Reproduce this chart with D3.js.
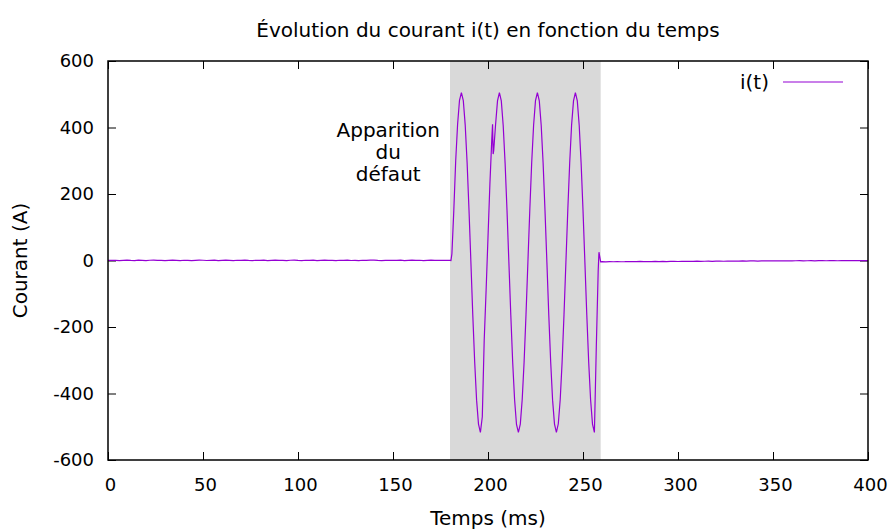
<!DOCTYPE html>
<html>
<head>
<meta charset="utf-8">
<script src="https://cdn.jsdelivr.net/npm/d3@7"></script>
<style>
  body { margin: 0; background: #fff; }
  svg { display: block; }
  text { font-family: "DejaVu Sans", sans-serif; fill: #000; }
</style>
</head>
<body>
<svg id="chart" width="891" height="529"></svg>
<script>
// Current i(t) in amperes, time in milliseconds.
// Before the fault: samples every 2 ms from 0 to 180 ms.
const preFaultStep = 2;
const preFaultCurrent = [
  0.5, 0.8, 0.2, -0.4, 0.6, 1.2, 0.3, -0.2, 0.9, 0.4,
  -0.5, 0.7, 1.1, 0.2, 0.6, -0.3, 0.4, 1.0, 0.5, -0.1,
  0.8, 0.3, -0.6, 0.5, 1.2, 0.7, 0.0, 0.4, 0.9, -0.3,
  0.6, 1.0, 0.2, -0.4, 0.7, 0.5, 1.1, 0.3, -0.2, 0.8,
  0.4, 0.9, -0.5, 0.6, 1.0, 0.1, 0.5, -0.3, 0.8, 1.2,
  0.4, -0.1, 0.7, 0.3, 0.9, -0.4, 0.6, 1.0, 0.2, 0.5,
  -0.2, 0.8, 0.4, 1.1, 0.0, 0.6, -0.5, 0.7, 0.3, 0.9,
  1.2, 0.2, -0.3, 0.6, 0.8, 0.1, 0.5, 1.0, -0.2, 0.4,
  0.9, 0.3, 0.7, -0.4, 0.6, 1.1, 0.2, 0.5, 0.8, 0.3,
  0.4
];

// During the fault: 50 Hz oscillation, sampled every millisecond.
const faultTime = [
  180.5, 181, 182, 183, 184, 185, 186, 187, 188, 189,
  190, 191, 192, 193, 194, 195, 196, 197, 198, 199,
  200, 201, 202, 202.4, 202.7, 203, 204, 205, 206, 207,
  208, 209, 210, 211, 212, 213, 214, 215, 216, 217,
  218, 219, 220, 221, 222, 223, 224, 225, 226, 227,
  228, 229, 230, 231, 232, 233, 234, 235, 236, 237,
  238, 239, 240, 241, 242, 243, 244, 245, 246, 247,
  248, 249, 250, 251, 252, 253, 254, 255, 256, 257,
  258, 258.4, 259.3
];
const faultCurrent = [
  0, 20, 150, 300, 410, 482, 505, 481, 408, 295,
  152, -5, -165, -306, -420, -492, -517, -470, -240, -90,
  70, 230, 365, 410, 320, 330, 410, 480, 505, 480,
  406, 293, 151, -7, -164, -307, -419, -493, -517, -492,
  -418, -305, -163, -5, 152, 295, 407, 481, 505, 480,
  407, 294, 150, -6, -165, -306, -420, -492, -517, -491,
  -419, -306, -163, -6, 152, 294, 408, 480, 505, 480,
  407, 294, 152, -6, -164, -306, -419, -492, -517, -260,
  -30, 25, -4
];

// After the fault is cleared: samples every 2 ms from 260 to 400 ms.
const postFaultStart = 260;
const postFaultStep = 2;
const postFaultCurrent = [
  -3.6, -3.9, -3.4, -3.8, -3.2, -3.7, -3.5, -3.0, -3.6, -3.3,
  -2.9, -3.5, -3.1, -3.6, -2.8, -3.2, -2.7, -3.3, -2.9, -2.5,
  -3.0, -2.6, -2.2, -2.8, -2.4, -2.0, -2.6, -2.2, -1.9, -2.4,
  -2.0, -1.7, -2.2, -1.8, -1.5, -1.9, -1.6, -1.3, -1.8, -1.4,
  -1.1, -1.6, -1.2, -1.0, -1.4, -1.1, -0.8, -1.3, -0.9, -0.7,
  -1.1, -0.8, -0.6, -1.0, -0.7, -0.5, -0.9, -0.6, -0.4, -0.8,
  -0.5, -0.3, -0.7, -0.4, -0.2, -0.6, -0.3, -0.5, -0.2, -0.4,
  -0.3
];

// Fault window and axis ticks.
const faultWindow = [180, 259.3];
const xTicks = [0, 50, 100, 150, 200, 250, 300, 350, 400];
const yTicks = [-600, -400, -200, 0, 200, 400, 600];
const annotationLines = ["Apparition", "du", "défaut"];
const annotationAt = [147.5, 371];

const series = [];
preFaultCurrent.forEach((v, i) => series.push([i * preFaultStep, v]));
faultTime.forEach((t, i) => series.push([t, faultCurrent[i]]));
postFaultCurrent.forEach((v, i) => series.push([postFaultStart + i * postFaultStep, v]));

const svg = d3.select("#chart");
const plot = { left: 108, right: 868, top: 61, bottom: 460 };

const x = d3.scaleLinear().domain([0, 400]).range([plot.left, plot.right]);
const y = d3.scaleLinear().domain([-600, 600]).range([plot.bottom, plot.top]);

// Shaded fault window
svg.append("rect")
  .attr("x", x(faultWindow[0]))
  .attr("y", plot.top)
  .attr("width", x(faultWindow[1]) - x(faultWindow[0]))
  .attr("height", plot.bottom - plot.top)
  .attr("fill", "#d9d9d9");

const tickLen = 8;
const tickFont = 18;
const labelFont = 20;
const plain = d => String(d);

// Axes: ticks point inward and are mirrored on the opposite side.
const xAxisBottom = d3.axisBottom(x).tickValues(xTicks).tickSize(-tickLen).tickPadding(18).tickFormat(plain);
const xAxisTop = d3.axisTop(x).tickValues(xTicks).tickSize(-tickLen).tickFormat("");
const yAxisLeft = d3.axisLeft(y).tickValues(yTicks).tickSize(-tickLen).tickPadding(tickLen + 6).tickFormat(plain);
const yAxisRight = d3.axisRight(y).tickValues(yTicks).tickSize(-tickLen).tickFormat("");

function style(g) {
  g.select(".domain").remove();
  g.selectAll(".tick line").attr("stroke", "#000").attr("stroke-width", 1);
  g.selectAll(".tick text").attr("font-size", tickFont).attr("font-family", "DejaVu Sans").attr("fill", "#000");
}

svg.append("g").attr("transform", `translate(0,${plot.bottom})`).call(xAxisBottom).call(style)
  .selectAll(".tick text").attr("dx", 2);
svg.append("g").attr("transform", `translate(0,${plot.top})`).call(xAxisTop).call(style);
svg.append("g").attr("transform", `translate(${plot.left},0)`).call(yAxisLeft).call(style);
svg.append("g").attr("transform", `translate(${plot.right},0)`).call(yAxisRight).call(style);

// Current trace
const line = d3.line().x(d => x(d[0])).y(d => y(d[1]));
svg.append("path")
  .datum(series)
  .attr("fill", "none")
  .attr("stroke", "#9400d3")
  .attr("stroke-width", 1.2)
  .attr("d", line);

// Border
svg.append("rect")
  .attr("x", plot.left).attr("y", plot.top)
  .attr("width", plot.right - plot.left).attr("height", plot.bottom - plot.top)
  .attr("fill", "none").attr("stroke", "#000").attr("stroke-width", 1.5);

// Title and axis labels
svg.append("text")
  .attr("x", (plot.left + plot.right) / 2).attr("y", 37)
  .attr("text-anchor", "middle").attr("font-size", labelFont)
  .text("Évolution du courant i(t) en fonction du temps");

svg.append("text")
  .attr("x", (plot.left + plot.right) / 2).attr("y", 525)
  .attr("text-anchor", "middle").attr("font-size", labelFont)
  .text("Temps (ms)");

svg.append("text")
  .attr("transform", `translate(27,${(plot.top + plot.bottom) / 2}) rotate(-90)`)
  .attr("text-anchor", "middle").attr("font-size", labelFont)
  .text("Courant (A)");

// Fault annotation
const ann = svg.append("text")
  .attr("text-anchor", "middle").attr("font-size", labelFont);
annotationLines.forEach((s, i) => {
  ann.append("tspan")
    .attr("x", x(annotationAt[0]))
    .attr("y", y(annotationAt[1]) + i * 22)
    .text(s);
});

// Legend
svg.append("text")
  .attr("x", 769).attr("y", 89)
  .attr("text-anchor", "end").attr("font-size", labelFont)
  .text("i(t)");
svg.append("line")
  .attr("x1", 783).attr("x2", 843).attr("y1", 82).attr("y2", 82)
  .attr("stroke", "#9400d3").attr("stroke-width", 1.2);
</script>
</body>
</html>
